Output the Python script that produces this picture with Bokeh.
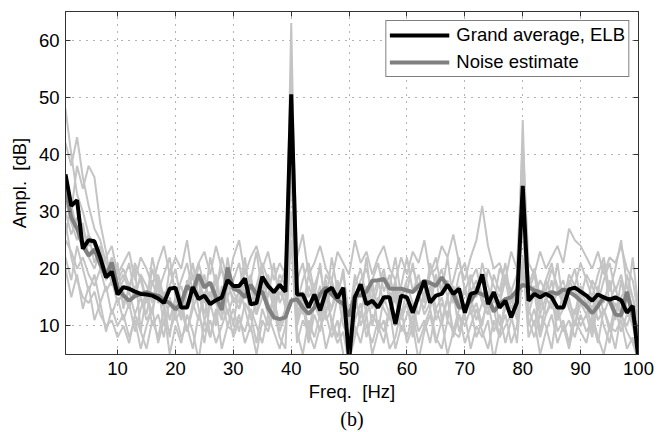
from bokeh.plotting import figure
from bokeh.models import Range1d, LinearAxis, Legend, LegendItem, Title, FixedTicker
from bokeh.embed import file_html
from bokeh.resources import INLINE

freq = list(range(1, 101))

grand_average = [
    36.5, 31, 32, 23.5, 25, 24.8, 22, 18.5, 19.5, 15.5,
    16.8, 16.5, 16, 15.6, 15.5, 15.3, 14.8, 14, 16.5, 16.7,
    13.2, 13.2, 16.8, 14.7, 15.3, 13.8, 14.5, 15, 18, 17,
    17, 18.3, 13.8, 14, 18.6, 17, 15.9, 17.2, 16, 50.5,
    15.5, 15.5, 13.2, 15.5, 12.7, 16, 16.7, 14.9, 16.7, 4,
    15, 17.3, 13.8, 14.4, 13.2, 15, 15, 10.3, 15.3, 15,
    12.3, 15.3, 17.9, 14.1, 15.3, 15.6, 17.2, 15.6, 16.5, 12.3,
    15.6, 15.9, 19, 13.8, 15.9, 13.2, 14.4, 11.5, 14.1, 34.5,
    14.4, 15.6, 15, 15.6, 15, 13.2, 13.2, 16.4, 16.7, 16,
    15.3, 14.4, 15.5, 15, 14.6, 15, 14.5, 12.3, 13.5, 4,
]

noise_estimate = [
    34, 29, 27, 24, 22.3, 23.4, 20.8, 18.8, 21.1, 16.7,
    15.3, 14.4, 15.2, 15.6, 15.9, 15.5, 15.3, 14.5, 14, 12.9,
    14, 17, 16, 19, 16.7, 17.6, 15, 12.8, 20.2, 16.5,
    16.1, 15, 17.2, 15.5, 16, 13.2, 11.5, 11.2, 11.5, 14.4,
    14.7, 13.2, 12.1, 13.2, 15.6, 16.7, 15.5, 14.5, 13.8, 11.7,
    15.3, 15.3, 16, 17.9, 18, 18.2, 16.5, 16.5, 16.5, 16.2,
    15.9, 17, 17.9, 17.5, 17, 18.5, 17, 15.6, 13.2, 13.2,
    14.4, 15.9, 15.5, 15, 12.5, 13.8, 14.7, 15, 16.2, 17.2,
    16.8, 16.2, 15.9, 15.5, 15.9, 15.6, 16.4, 16, 15.3, 14.4,
    13.5, 12.2, 13.5, 15, 14.4, 12, 11.8, 16, 11.8, 8.5,
]

subject_a = [48, 40, 33, 30, 26, 24, 22, 20, 18, 17,
             14, 16, 12, 15, 11, 13, 17, 10, 14, 12,
             15, 9, 13, 16, 11, 14, 10, 17, 12, 15,
             13, 18, 11, 14, 16, 12, 15, 10, 13, 63,
             12, 15, 9, 14, 17, 11, 13, 16, 10, 8,
             14, 12, 17, 10, 15, 13, 11, 16, 12, 14,
             10, 15, 13, 17, 11, 14, 12, 16, 9, 13,
             15, 11, 14, 12, 16, 10, 13, 15, 11, 46,
             13, 10, 15, 12, 14, 11, 16, 13, 10, 14,
             12, 15, 11, 13, 9, 14, 12, 10, 13, 7]
subject_b = [42, 38, 43, 36, 31, 27, 25, 21, 19, 16,
             18, 21, 15, 19, 14, 22, 17, 13, 20, 16,
             12, 18, 14, 21, 17, 15, 19, 13, 22, 16,
             14, 20, 17, 12, 18, 15, 21, 14, 16, 48,
             17, 13, 19, 15, 21, 12, 18, 14, 16, 11,
             19, 15, 22, 13, 17, 20, 14, 18, 12, 16,
             21, 15, 18, 13, 19, 16, 22, 14, 17, 12,
             18, 20, 15, 13, 19, 16, 21, 14, 17, 38,
             16, 19, 13, 18, 15, 21, 14, 17, 20, 15,
             13, 18, 16, 21, 14, 17, 12, 19, 15, 10]
subject_c = [35, 30, 38, 34, 38, 36, 28, 23, 17, 21,
             13, 17, 20, 9, 16, 12, 18, 14, 8, 15,
             11, 16, 19, 13, 7, 14, 18, 12, 15, 10,
             17, 13, 9, 16, 20, 14, 11, 18, 13, 40,
             11, 16, 8, 14, 12, 18, 10, 15, 13, 6,
             16, 10, 13, 18, 9, 15, 12, 17, 11, 14,
             8, 16, 12, 14, 19, 11, 15, 9, 13, 17,
             12, 14, 10, 16, 13, 8, 15, 11, 17, 30,
             12, 16, 9, 14, 18, 11, 13, 15, 10, 16,
             14, 9, 17, 12, 15, 11, 18, 13, 10, 6]
subject_d = [28, 22, 18, 15, 14, 16, 12, 10, 11, 8,
             10, 7, 12, 9, 6, 11, 8, 13, 5, 10,
             7, 12, 9, 4, 11, 8, 13, 6, 10, 9,
             12, 7, 10, 5, 11, 9, 13, 8, 6, 30,
             9, 5, 11, 8, 12, 6, 10, 7, 9, 3,
             10, 7, 12, 5, 9, 11, 6, 8, 13, 7,
             10, 4, 9, 12, 7, 11, 5, 9, 8, 12,
             6, 10, 8, 11, 4, 9, 12, 7, 10, 22,
             8, 11, 5, 9, 12, 7, 10, 6, 11, 9,
             7, 12, 8, 5, 10, 9, 11, 6, 8, 4]
subject_e = [30, 26, 29, 27, 24, 25, 20, 22, 24, 19,
             21, 23, 18, 22, 20, 17, 21, 24, 19, 22,
             20, 25, 18, 21, 23, 19, 24, 20, 17, 22,
             25, 19, 22, 24, 20, 23, 18, 21, 19, 55,
             22, 26, 19, 21, 24, 20, 18, 23, 21, 19,
             25, 21, 23, 19, 22, 24, 20, 18, 22, 19,
             23, 21, 25, 19, 20, 24, 22, 26, 21, 18,
             22, 25, 31, 24, 20, 21, 18, 23, 20, 42,
             21, 19, 23, 20, 22, 24, 21, 27, 25, 24,
             22, 20, 23, 19, 22, 21, 24, 20, 18, 12]
subject_f = [25, 23, 20, 22, 19, 17, 20, 16, 18, 14,
             16, 13, 17, 15, 12, 18, 14, 16, 11, 15,
             17, 13, 15, 18, 12, 16, 14, 11, 17, 15,
             13, 16, 19, 12, 15, 17, 13, 16, 14, 45,
             15, 12, 17, 14, 11, 16, 13, 18, 12, 9,
             13, 17, 12, 15, 18, 14, 16, 11, 15, 17,
             14, 12, 16, 18, 13, 15, 11, 17, 14, 16,
             13, 17, 15, 12, 16, 14, 18, 13, 15, 35,
             14, 17, 12, 15, 13, 16, 18, 14, 12, 17,
             15, 13, 16, 14, 18, 12, 15, 17, 13, 9]
subject_g = [22, 18, 24, 20, 16, 19, 14, 17, 12, 15,
             11, 14, 9, 13, 16, 10, 12, 8, 15, 11,
             13, 9, 14, 11, 16, 8, 12, 15, 10, 13,
             9, 14, 12, 7, 13, 10, 15, 9, 12, 38,
             10, 14, 7, 12, 9, 15, 11, 8, 13, 5,
             11, 14, 8, 12, 10, 7, 13, 15, 9, 12,
             14, 9, 11, 7, 13, 10, 15, 8, 12, 10,
             13, 8, 11, 14, 9, 12, 7, 11, 14, 28,
             10, 13, 8, 12, 15, 9, 11, 7, 13, 10,
             12, 8, 14, 10, 7, 13, 9, 12, 11, 5]
subject_h = [32, 28, 25, 28, 22, 20, 23, 18, 21, 17,
             19, 16, 21, 18, 14, 20, 16, 19, 22, 15,
             18, 21, 16, 19, 14, 22, 17, 20, 15, 18,
             21, 15, 18, 23, 16, 19, 14, 17, 20, 52,
             18, 21, 15, 17, 20, 14, 22, 16, 19, 12,
             17, 20, 15, 18, 21, 16, 19, 14, 17, 22,
             16, 19, 14, 21, 17, 20, 15, 18, 22, 16,
             19, 15, 21, 17, 14, 20, 18, 16, 19, 40,
             17, 20, 15, 18, 21, 16, 14, 19, 17, 21,
             18, 15, 19, 22, 16, 20, 25, 17, 15, 11]
subject_i = [26, 31, 27, 24, 26, 21, 24, 19, 22, 18,
             20, 17, 15, 19, 17, 14, 19, 15, 17, 20,
             14, 17, 21, 15, 19, 13, 16, 22, 18, 14,
             16, 22, 14, 17, 21, 18, 15, 19, 17, 43,
             14, 18, 21, 16, 13, 19, 17, 15, 20, 10,
             15, 18, 20, 16, 14, 19, 17, 22, 15, 18,
             20, 17, 15, 19, 22, 16, 18, 14, 19, 21,
             16, 18, 14, 20, 17, 15, 19, 16, 13, 33,
             19, 15, 18, 16, 20, 17, 14, 18, 16, 15,
             19, 17, 14, 18, 21, 16, 19, 14, 22, 13]
subject_j = [20, 15, 19, 13, 17, 11, 14, 9, 13, 10,
             12, 8, 11, 6, 10, 13, 7, 11, 9, 12,
             8, 10, 6, 12, 9, 11, 7, 10, 13, 8,
             11, 9, 13, 10, 7, 12, 9, 6, 10, 25,
             7, 11, 9, 6, 10, 12, 8, 11, 5, 4,
             8, 12, 10, 7, 11, 9, 13, 6, 10, 8,
             12, 7, 10, 13, 8, 6, 11, 9, 12, 7,
             10, 13, 9, 6, 11, 8, 10, 12, 7, 20,
             11, 8, 12, 10, 6, 13, 9, 11, 8, 12,
             9, 11, 7, 13, 10, 6, 12, 9, 7, 4]

subjects = [subject_a, subject_b, subject_c, subject_d, subject_e,
            subject_f, subject_g, subject_h, subject_i, subject_j]

x_ticks = [10, 20, 30, 40, 50, 60, 70, 80, 90, 100]
y_ticks = [10, 20, 30, 40, 50, 60]

FONT = "Liberation Sans"
FS = "18.5px"

p = figure(width=657, height=432, output_backend="svg", toolbar_location=None,
           x_range=Range1d(1, 100), y_range=Range1d(5, 65),
           min_border_left=65, min_border_right=19, min_border_top=11,
           min_border_bottom=78)
p.title = None
p.background_fill_color = "white"
p.border_fill_color = "white"
p.outline_line_color = "#333333"
p.outline_line_width = 1

for s in subjects:
    p.line(freq, s, line_color="#c4c4c4", line_width=2)

r_noise = p.line(freq, noise_estimate, line_color="#808080", line_width=4)
r_avg = p.line(freq, grand_average, line_color="black", line_width=4)

for ax in (p.xaxis[0], p.yaxis[0]):
    ax.major_tick_in = 5
    ax.major_tick_out = 0
    ax.minor_tick_in = 0
    ax.minor_tick_out = 0
    ax.axis_line_color = "#333333"
    ax.major_tick_line_color = "#333333"
    ax.major_label_text_font = FONT
    ax.major_label_text_font_size = FS
    ax.major_label_text_color = "black"
    ax.axis_label_text_font = FONT
    ax.axis_label_text_font_size = FS
    ax.axis_label_text_font_style = "normal"
    ax.axis_label_text_color = "black"

p.xaxis[0].ticker = FixedTicker(ticks=x_ticks)
p.yaxis[0].ticker = FixedTicker(ticks=y_ticks)
p.xaxis[0].axis_label = "Freq.\u00a0\u00a0[Hz]"
p.yaxis[0].axis_label = "Ampl.\u00a0\u00a0[dB]"
p.xaxis[0].major_label_standoff = 7
p.yaxis[0].major_label_standoff = 6
p.xaxis[0].axis_label_standoff = 3
p.yaxis[0].axis_label_standoff = 6


def box_axis(ticks):
    return LinearAxis(ticker=FixedTicker(ticks=ticks), major_tick_in=5, major_tick_out=0,
                      minor_tick_in=0, minor_tick_out=0,
                      major_label_overrides={t: "" for t in ticks},
                      major_label_text_font_size="1px", major_label_text_color=None,
                      major_label_standoff=0, axis_label_standoff=0,
                      axis_line_color="#333333", major_tick_line_color="#333333")


p.add_layout(box_axis(x_ticks), "above")
p.add_layout(box_axis(y_ticks), "right")

p.xgrid.ticker = FixedTicker(ticks=x_ticks)
p.ygrid.ticker = FixedTicker(ticks=y_ticks)
for g in (p.xgrid[0], p.ygrid[0]):
    g.grid_line_color = "#666666"
    g.grid_line_dash = "1 6"
    g.grid_line_width = 1

legend = Legend(items=[LegendItem(label="Grand average, ELB", renderers=[r_avg]),
                       LegendItem(label="Noise estimate", renderers=[r_noise])],
                location="top_right")
legend.label_text_font = FONT
legend.label_text_font_size = FS
legend.label_text_color = "black"
legend.glyph_width = 60
legend.glyph_height = 20
legend.label_height = 20
legend.spacing = 5
legend.padding = 3
legend.margin = 9
legend.label_standoff = 7
legend.border_line_color = "black"
legend.border_line_width = 1
legend.background_fill_alpha = 1
p.add_layout(legend)

cap = Title(text="(b)", align="center", text_font="Liberation Serif",
            text_font_size="20px", text_font_style="normal", text_color="black",
            standoff=2)
p.add_layout(cap, "below")

open("out.html", "w").write(file_html(p, INLINE))
